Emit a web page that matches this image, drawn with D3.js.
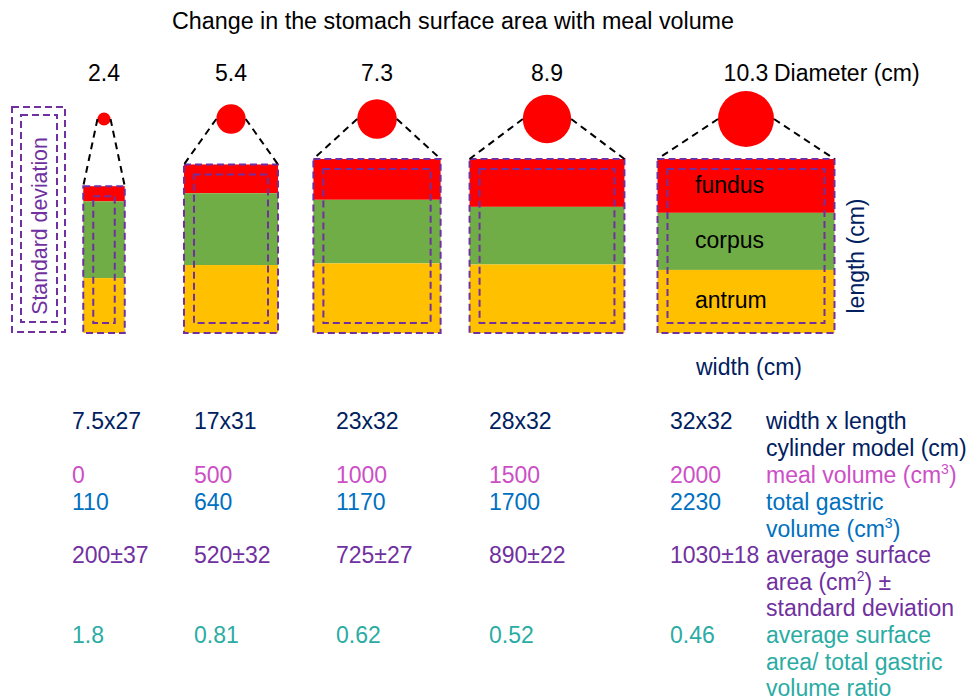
<!DOCTYPE html>
<html>
<head>
<meta charset="utf-8">
<script src="https://cdn.jsdelivr.net/npm/d3@7"></script>
<style>
  body { margin: 0; background: #fff; }
  text { font-family: "Liberation Sans", Arial, sans-serif; }
</style>
</head>
<body>
<svg width="971" height="700"></svg>
<script>
// values
var diameters   = [2.4, 5.4, 7.3, 8.9, 10.3];      // cm
var widths      = [7.5, 17, 23, 28, 32];           // cm
var lengths     = [27, 31, 32, 32, 32];            // cm
var fundusLen   = [2.8, 5.3, 7.5, 8.8, 9.9];       // cm
var corpusLen   = [14.1, 13.2, 11.7, 10.6, 10.5];  // cm (estimated), antrum = the rest
var mealVolume  = [0, 500, 1000, 1500, 2000];      // cm3
var totalVolume = [110, 640, 1170, 1700, 2230];    // cm3
var surfaceArea = [200, 520, 725, 890, 1030];      // cm2
var surfaceSD   = [37, 32, 27, 22, 18];
var ratio       = ["1.8", "0.81", "0.62", "0.52", "0.46"];

var svg = d3.select("svg");

var navy = "#002060", purple = "#7030A0", pink = "#CC4FC6",
    blue = "#0070C0", teal = "#2AACA4";
var segColors = {fundus: "#FF0000", corpus: "#70AD47", antrum: "#FFC000"};
var fs = 23;

var idx = d3.range(widths.length);

// stomach centres and text columns
var xc = d3.scaleOrdinal().domain(idx).range([104, 231, 377, 547, 746]);
var xt = d3.scaleOrdinal().domain(idx).range([72, 194, 336, 489, 670]);
var w = d3.scaleLinear().domain([0, 32]).range([0, 177]);
var h = d3.scaleLinear().domain([0, 32]).range([0, 174]);
var r = d3.scaleLinear().domain([0, 10.3]).range([0, 28]);

var bottom = 333, cy = 119, inset = 10;

// title
svg.append("text")
    .attr("x", 453).attr("y", 29)
    .attr("text-anchor", "middle")
    .attr("font-size", 23.3)
    .text("Change in the stomach surface area with meal volume");

// diameter labels
svg.selectAll(".diam")
  .data(idx)
  .enter().append("text")
    .attr("class", "diam")
    .attr("x", function(i) { return xc(i); })
    .attr("y", 81)
    .attr("text-anchor", "middle")
    .attr("font-size", fs)
    .text(function(i) { return diameters[i]; });
svg.append("text")
    .attr("x", xc(4) + 28).attr("y", 81)
    .attr("font-size", fs)
    .text("Diameter (cm)");

// stomach segments
var g = svg.selectAll(".stomach")
  .data(idx)
  .enter().append("g")
    .attr("class", "stomach");

function segs(i) {
  var f = fundusLen[i], c = corpusLen[i], a = lengths[i] - f - c;
  return [
    {name: "fundus", y0: lengths[i], len: f},
    {name: "corpus", y0: a + c, len: c},
    {name: "antrum", y0: a, len: a}
  ];
}

g.selectAll("rect.seg")
  .data(function(i) { return segs(i).map(function(s) { s.i = i; return s; }); })
  .enter().append("rect")
    .attr("class", "seg")
    .attr("x", function(s) { return xc(s.i) - w(widths[s.i]) / 2; })
    .attr("y", function(s) { return bottom - h(s.y0); })
    .attr("width", function(s) { return w(widths[s.i]); })
    .attr("height", function(s) { return h(s.len); })
    .attr("fill", function(s) { return segColors[s.name]; });

// outer dashed outline (mean) and inner dashed (minus sd)
g.append("rect")
    .attr("x", function(i) { return xc(i) - w(widths[i]) / 2; })
    .attr("y", function(i) { return bottom - h(lengths[i]); })
    .attr("width", function(i) { return w(widths[i]); })
    .attr("height", function(i) { return h(lengths[i]); })
    .attr("fill", "none")
    .attr("stroke", purple).attr("stroke-width", 2)
    .attr("stroke-dasharray", "7,4");
g.append("rect")
    .attr("x", function(i) { return xc(i) - w(widths[i]) / 2 + inset; })
    .attr("y", function(i) { return bottom - h(lengths[i]) + inset; })
    .attr("width", function(i) { return w(widths[i]) - 2 * inset; })
    .attr("height", function(i) { return h(lengths[i]) - 2 * inset; })
    .attr("fill", "none")
    .attr("stroke", purple).attr("stroke-width", 2)
    .attr("stroke-dasharray", "7,4");

// cross-section circle + dashed guides
g.append("circle")
    .attr("cx", function(i) { return xc(i); })
    .attr("cy", cy)
    .attr("r", function(i) { return r(diameters[i]); })
    .attr("fill", "#FF0000");

[-1, 1].forEach(function(side) {
  g.append("line")
      .attr("x1", function(i) { return xc(i) + side * r(diameters[i]); })
      .attr("y1", cy)
      .attr("x2", function(i) { return xc(i) + side * w(widths[i]) / 2; })
      .attr("y2", function(i) { return bottom - h(lengths[i]); })
      .attr("stroke", "#000").attr("stroke-width", 2)
      .attr("stroke-dasharray", "7,5");
});

// segment names inside the last stomach
var last = segs(4);
svg.selectAll(".segname")
  .data(last)
  .enter().append("text")
    .attr("class", "segname")
    .attr("x", xc(4) - 51)
    .attr("y", function(s) { return bottom - h(s.y0) + h(s.len) / 2 + 7; })
    .attr("font-size", fs)
    .attr("fill", "#000")
    .text(function(s) { return s.name; });

// axis labels
svg.append("text")
    .attr("transform", "translate(864,256) rotate(-90)")
    .attr("text-anchor", "middle")
    .attr("font-size", fs)
    .attr("fill", navy)
    .text("length (cm)");
svg.append("text")
    .attr("x", 749).attr("y", 375)
    .attr("text-anchor", "middle")
    .attr("font-size", fs)
    .attr("fill", navy)
    .text("width (cm)");

// standard deviation legend
svg.append("rect")
    .attr("x", 12).attr("y", 107).attr("width", 53).attr("height", 225)
    .attr("fill", "none").attr("stroke", purple).attr("stroke-width", 2)
    .attr("stroke-dasharray", "7,4");
svg.append("rect")
    .attr("x", 21).attr("y", 115).attr("width", 36).attr("height", 207)
    .attr("fill", "none").attr("stroke", purple).attr("stroke-width", 2)
    .attr("stroke-dasharray", "7,4");
svg.append("text")
    .attr("transform", "translate(47,226) rotate(-90)")
    .attr("text-anchor", "middle")
    .attr("font-size", 21.3)
    .attr("fill", purple)
    .text("Standard deviation");

// table rows
var lh = 26.7;
var rows = [
  {y: 429, color: navy, values: idx.map(function(i) { return widths[i] + "x" + lengths[i]; }),
   label: [[["width x length"]], [["cylinder model (cm)"]]]},
  {y: 483, color: pink, values: mealVolume.map(String),
   label: [[["meal volume (cm"], ["3", true], [")"]]]},
  {y: 510, color: blue, values: totalVolume.map(String),
   label: [[["total gastric"]], [["volume (cm"], ["3", true], [")"]]]},
  {y: 563, color: purple, values: idx.map(function(i) { return surfaceArea[i] + "\u00b1" + surfaceSD[i]; }),
   label: [[["average surface"]], [["area (cm"], ["2", true], [") \u00b1"]], [["standard deviation"]]]},
  {y: 643, color: teal, values: ratio,
   label: [[["average surface"]], [["area/ total gastric"]], [["volume ratio"]]]}
];

rows.forEach(function(row) {
  svg.selectAll(null)
    .data(row.values)
    .enter().append("text")
      .attr("x", function(d, i) { return xt(i); })
      .attr("y", row.y)
      .attr("font-size", fs)
      .attr("fill", row.color)
      .text(function(d) { return d; });

  row.label.forEach(function(line, k) {
    var t = svg.append("text")
        .attr("x", 766).attr("y", row.y + k * lh)
        .attr("font-size", fs)
        .attr("fill", row.color);
    var up = false;
    line.forEach(function(p) {
      var ts = t.append("tspan").text(p[0]);
      if (p[1]) { ts.attr("dy", -9).attr("font-size", 14); up = true; }
      else if (up) { ts.attr("dy", 9); up = false; }
    });
  });
});
</script>
</body>
</html>
